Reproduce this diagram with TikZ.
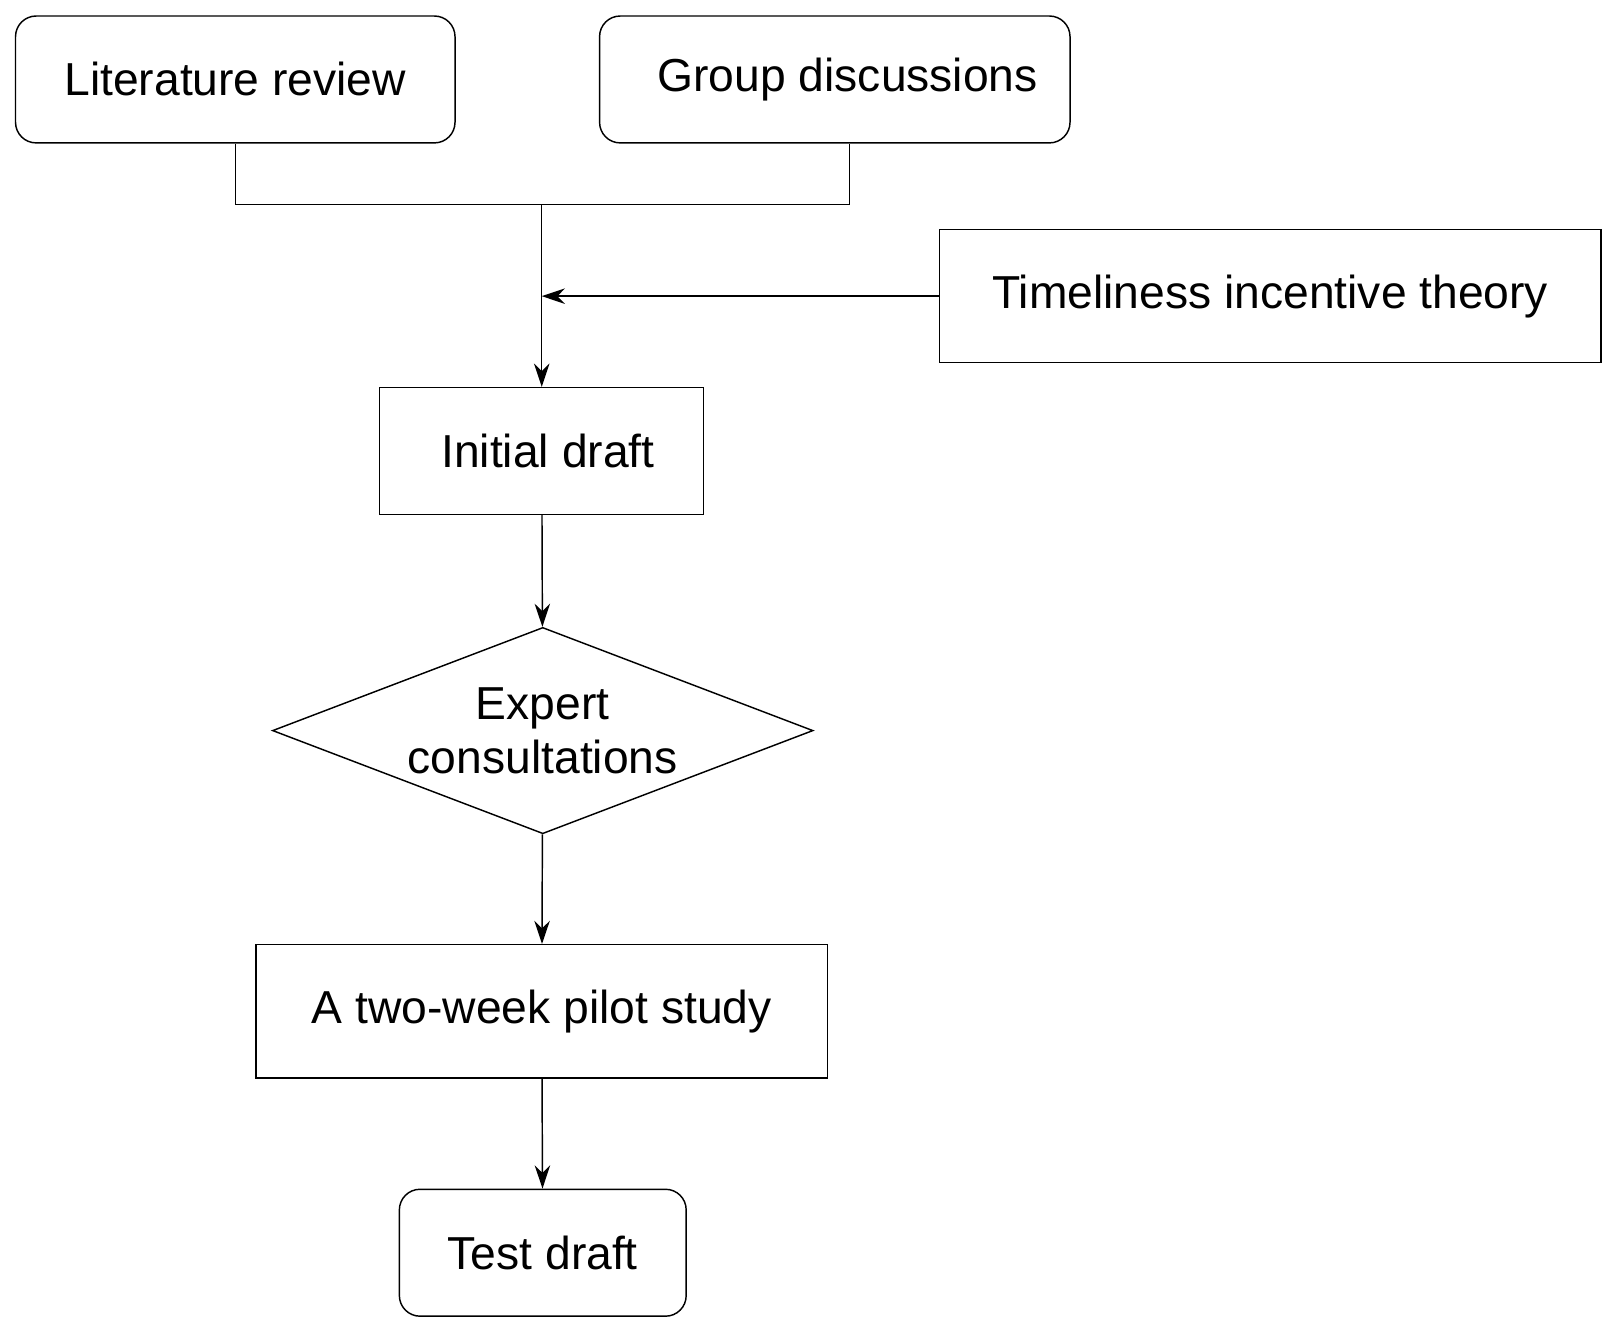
\documentclass[tikz,border=0pt]{standalone}
\usepackage{fontspec}
\setmainfont{Liberation Sans}
\usetikzlibrary{positioning, arrows.meta, shapes.geometric}

\begin{document}
\begin{tikzpicture}[
	x=0.02cm,
	y=-0.02cm,
	every box/.style={draw, thick, font=\fontsize{25.5}{30}\selectfont, inner sep=0pt},
	round box/.style={every box/.try, rounded corners=4mm},
	decision/.style={every box/.try, diamond, align=center, aspect=2.62},
	>={Stealth[length=4.5mm, width=3mm]}
]
\useasboundingbox (0,0) rectangle (1568,1292);

\node[round box, minimum width=8.52cm, minimum height=2.46cm] (litrev) at (228,77) {Literature review};
\node[round box, minimum width=9.12cm, minimum height=2.46cm] (group) at (809,77) {\hspace{0.5cm}Group discussions};
\node[every box/.try, minimum width=12.82cm, minimum height=2.58cm] (theory) at (1231,287) {Timeliness incentive theory};
\node[every box/.try, minimum width=6.28cm, minimum height=2.46cm] (initial) at (525,437) {\hspace{0.24cm}Initial draft};
\node[decision, minimum width=10.48cm, minimum height=4cm] (expert) at (526,708) {Expert\\consultations};
\node[every box/.try, minimum width=11.08cm, minimum height=2.58cm] (pilot) at (525,980) {A two-week pilot study};
\node[round box, minimum width=5.56cm, minimum height=2.46cm] (test) at (526,1214) {Test draft};

\coordinate (join) at (525,198);
\coordinate (meet) at (525,287);
\draw[thick] (litrev.south) |- (join) -| ([xshift=0.28cm]group.south);
\draw[thick, ->] (join) -- (initial.north);
\draw[thick, ->] (theory.west) -- (meet);
\draw[thick, ->] (initial) -- (expert);
\draw[thick, ->] (expert) -- (pilot);
\draw[thick, ->] (pilot) -- (test);

\end{tikzpicture}
\end{document}
